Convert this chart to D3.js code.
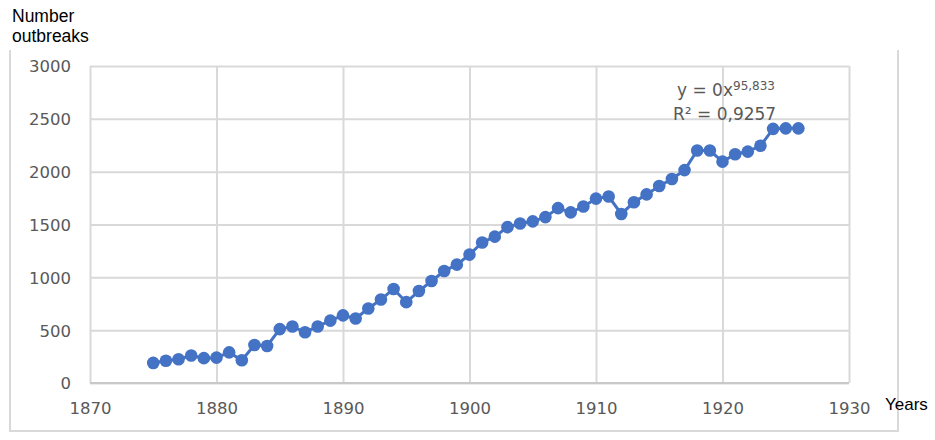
<!DOCTYPE html>
<html>
<head>
    <meta charset="utf-8">
    <title>Number of outbreaks by year</title>
    <style type="text/css">
        html, body { margin: 0; padding: 0; background: #fff; }
        .tick text { font-family: "DejaVu Sans", sans-serif; font-size: 16.5px; fill: #595959; }
        .grid line { stroke: #d9d9d9; stroke-width: 2; }
        .grid .domain { display: none; }
    </style>
</head>
<body>
<div id="chart"></div>

<script src="https://cdnjs.cloudflare.com/ajax/libs/d3/7.8.5/d3.min.js"></script>
<script>

// data
var years = [1875, 1876, 1877, 1878, 1879, 1880, 1881, 1882, 1883, 1884,
             1885, 1886, 1887, 1888, 1889, 1890, 1891, 1892, 1893, 1894,
             1895, 1896, 1897, 1898, 1899, 1900, 1901, 1902, 1903, 1904,
             1905, 1906, 1907, 1908, 1909, 1910, 1911, 1912, 1913, 1914,
             1915, 1916, 1917, 1918, 1919, 1920, 1921, 1922, 1923, 1924,
             1925, 1926];
var outbreaks = [190, 210, 225, 260, 235, 240, 290, 215, 360, 350,
                 510, 535, 480, 535, 590, 640, 610, 705, 790, 890,
                 765, 870, 965, 1060, 1120, 1215, 1330, 1385, 1475, 1510,
                 1530, 1570, 1655, 1615, 1670, 1745, 1765, 1600, 1710, 1785,
                 1865, 1930, 2015, 2200, 2200, 2095, 2165, 2190, 2245, 2405,
                 2410, 2410];
var xTicks = [1870, 1880, 1890, 1900, 1910, 1920, 1930];
var yTicks = [0, 500, 1000, 1500, 2000, 2500, 3000];
var yTitle = ["Number", "outbreaks"];
var xTitle = "Years";
var fitLine1 = "y = 0x";
var fitExponent = "95,833";
var fitLine2 = "R\u00B2 = 0,9257";

var W = 935, H = 440;
var svg = d3.select("#chart").append("svg")
    .attr("width", W)
    .attr("height", H);

var x = d3.scaleLinear().domain([1870, 1930]).range([90, 849]);
var y = d3.scaleLinear().domain([0, 3000]).range([383, 66]);

// outer frame (no top edge)
svg.append("path")
    .attr("d", "M10,50 V431 H898 V50")
    .style("fill", "none")
    .style("stroke", "#d9d9d9")
    .style("stroke-width", 2);

// horizontal gridlines + y labels
svg.append("g")
    .attr("class", "grid")
    .attr("transform", "translate(" + x(1870) + ",0)")
    .call(d3.axisLeft(y).tickValues(yTicks).tickFormat(d3.format("d"))
        .tickSizeInner(-(x(1930) - x(1870))).tickSizeOuter(0).tickPadding(19))
    .selectAll(".tick text").attr("dy", "0.36em");

// vertical gridlines + x labels
svg.append("g")
    .attr("class", "grid")
    .attr("transform", "translate(0," + y(0) + ")")
    .call(d3.axisBottom(x).tickValues(xTicks).tickFormat(d3.format("d"))
        .tickSizeInner(-(y(0) - y(3000))).tickSizeOuter(0).tickPadding(19));

// baseline
svg.append("line")
    .attr("x1", x(1870)).attr("x2", x(1930))
    .attr("y1", y(0)).attr("y2", y(0))
    .style("stroke", "#c8c8c8")
    .style("stroke-width", 2);

var pts = years.map(function(d, i) { return [d, outbreaks[i]]; });

svg.append("path")
    .datum(pts)
    .attr("d", d3.line().x(function(d) { return x(d[0]); }).y(function(d) { return y(d[1]); }))
    .style("fill", "none")
    .style("stroke", "#4472c4")
    .style("stroke-width", 3);

svg.selectAll("circle.pt")
    .data(pts)
    .enter()
    .append("circle")
    .attr("class", "pt")
    .attr("cx", function(d) { return x(d[0]); })
    .attr("cy", function(d) { return y(d[1]); })
    .attr("r", 6.3)
    .style("fill", "#4472c4");

// trendline label
var fit = svg.append("text")
    .attr("x", 677).attr("y", 96)
    .style("font-family", "DejaVu Sans, sans-serif")
    .style("font-size", "17px")
    .style("fill", "#595959");
fit.append("tspan").text(fitLine1);
fit.append("tspan").attr("dy", -6).style("font-size", "12px").text(fitExponent);

svg.append("text")
    .attr("x", 673).attr("y", 120)
    .style("font-family", "DejaVu Sans, sans-serif")
    .style("font-size", "17px")
    .style("fill", "#595959")
    .text(fitLine2);

// axis titles
svg.selectAll("text.ytitle")
    .data(yTitle)
    .enter()
    .append("text")
    .attr("class", "ytitle")
    .attr("x", 12)
    .attr("y", function(d, i) { return 22 + i * 20; })
    .style("font-family", "Liberation Sans, Arial, sans-serif")
    .style("font-size", "17.5px")
    .style("fill", "#000")
    .text(function(d) { return d; });

svg.append("text")
    .attr("x", 885).attr("y", 410)
    .style("font-family", "Liberation Sans, Arial, sans-serif")
    .style("font-size", "17px")
    .style("fill", "#000")
    .text(xTitle);

</script>
</body>
</html>
